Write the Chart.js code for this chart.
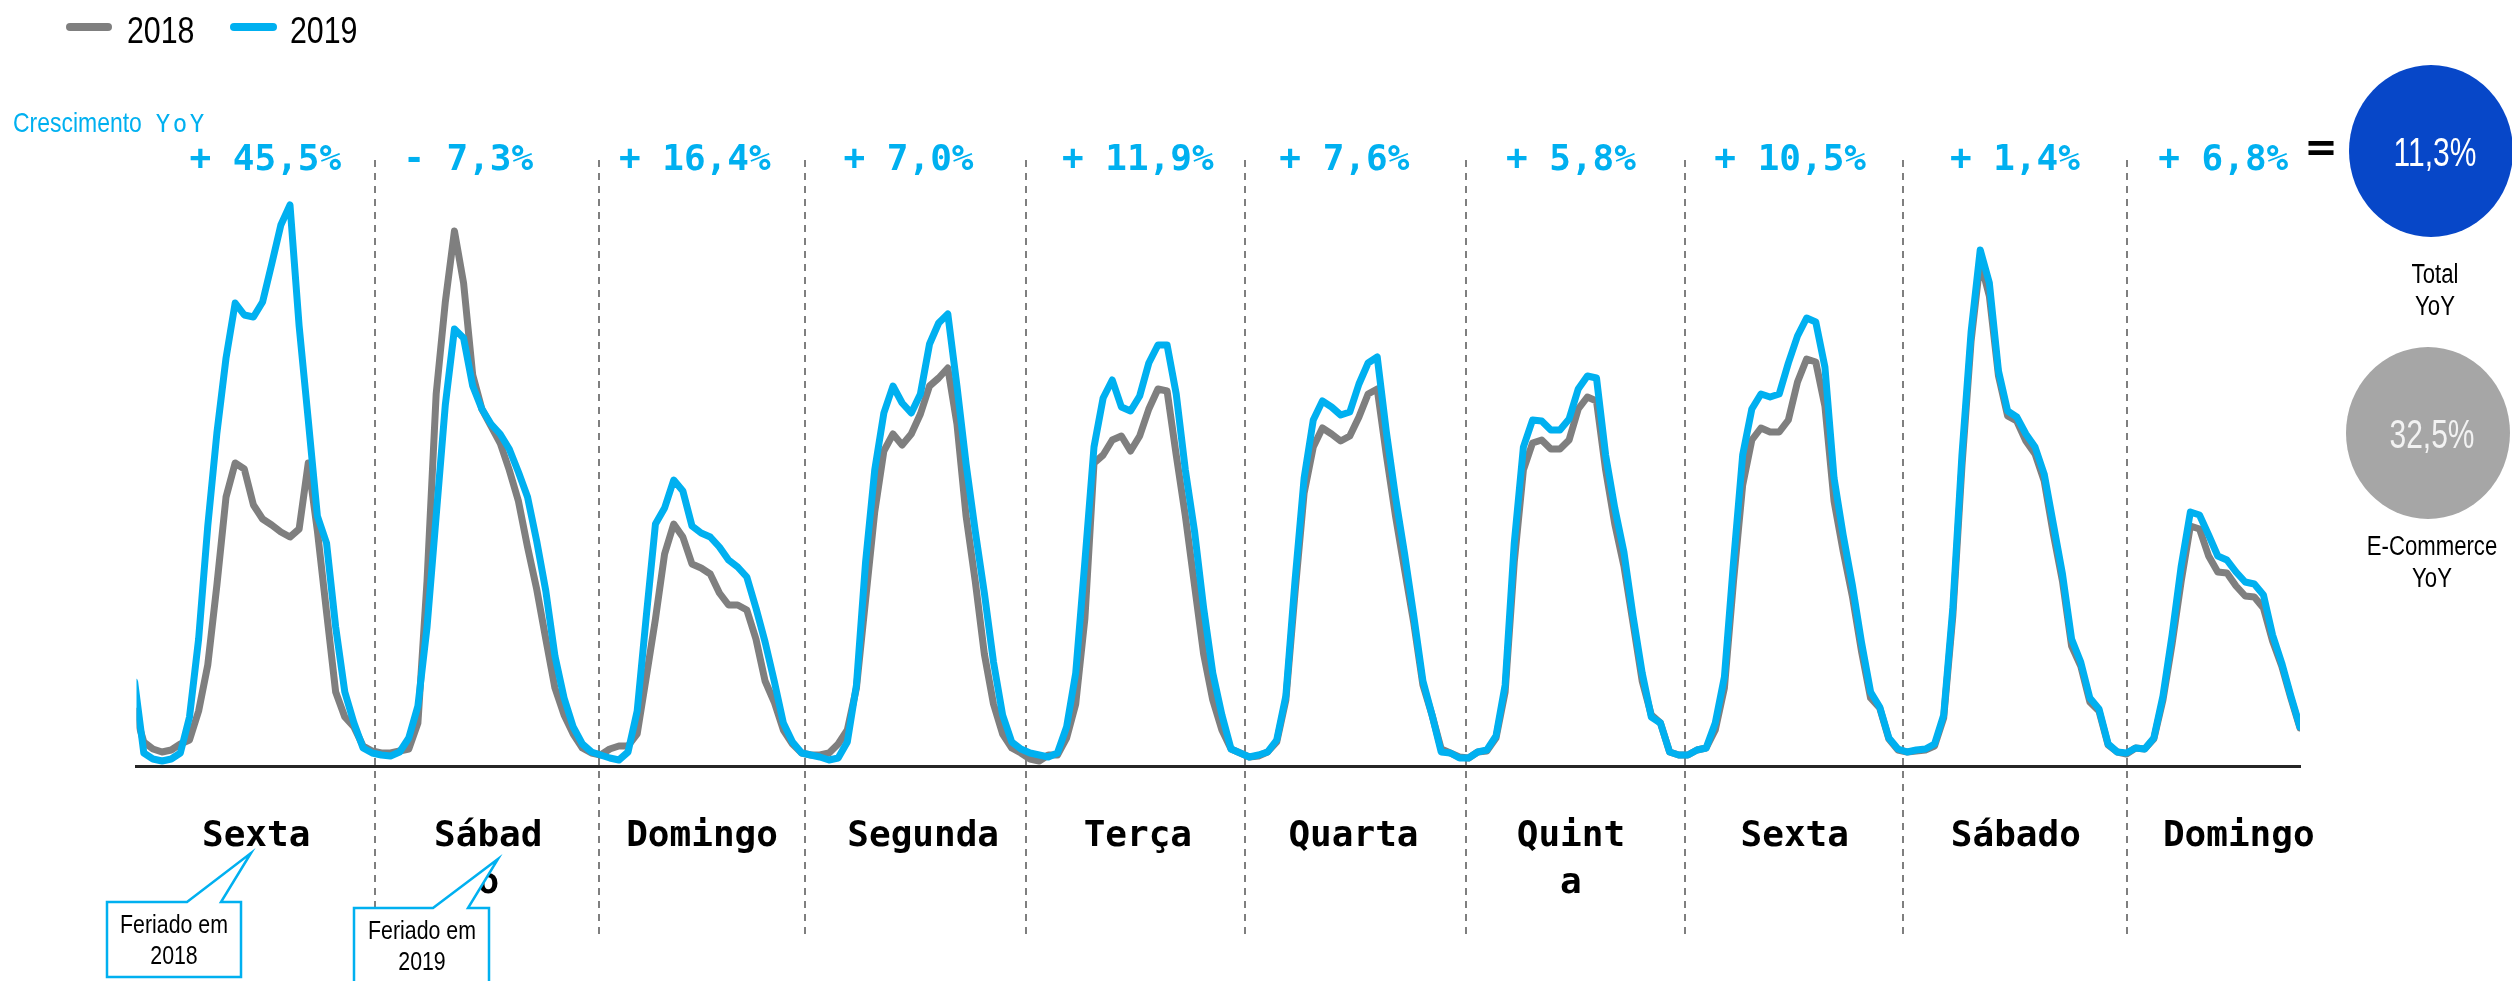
<!DOCTYPE html>
<html>
<head>
<meta charset="utf-8">
<script src="https://cdn.jsdelivr.net/npm/chart.js@4.4.1/dist/chart.umd.min.js"></script>
<style>
  html, body { margin: 0; padding: 0; background: #fff; }
  #wrap { width: 2512px; height: 981px; }
</style>
</head>
<body>
<div id="wrap"><canvas id="chart" width="2512" height="981"></canvas></div>
<script>
// hourly sales index, one value per hour (first value is the hour before the grid start)
const sales2018 = [
    55, 24, 17, 14, 16, 22, 26, 55, 101, 181, 269, 303, 297, 261, 247, 241, 234, 229, 237, 303, 235, 154, 74, 49, 39, 20,
    15, 13, 13, 15, 17, 43, 185, 372, 464, 535, 483, 391, 357, 340, 323, 296, 265, 219, 177, 127, 78, 51, 32, 18,
    13, 11, 17, 20, 20, 32, 89, 147, 212, 242, 229, 202, 198, 192, 173, 161, 161, 156, 127, 85, 64, 36, 22, 13,
    11, 11, 13, 22, 36, 78, 166, 254, 315, 332, 321, 332, 352, 380, 388, 398, 342, 250, 185, 112, 62, 32, 18, 13,
    7, 5, 11, 11, 28, 62, 147, 303, 311, 326, 330, 315, 330, 357, 377, 375, 311, 250, 181, 112, 66, 36, 17, 13,
    9, 10, 14, 24, 66, 173, 273, 319, 338, 332, 325, 330, 349, 372, 377, 311, 250, 196, 143, 81, 51, 17, 13, 9,
    8, 14, 15, 28, 74, 204, 296, 323, 326, 317, 317, 326, 357, 369, 365, 296, 242, 200, 143, 85, 51, 43, 14, 11,
    11, 16, 18, 36, 78, 185, 281, 326, 338, 334, 334, 346, 384, 407, 404, 360, 265, 215, 170, 115, 68, 58, 27, 16,
    14, 15, 16, 20, 48, 150, 300, 425, 505, 470, 390, 350, 345, 325, 312, 285, 232, 185, 120, 100, 64, 55, 21, 14,
    12, 18, 17, 27, 66, 122, 185, 240, 237, 210, 194, 193, 180, 170, 169, 158, 125, 100, 68, 38
];
const sales2019 = [
    84, 13, 7, 5, 7, 13, 49, 127, 240, 333, 408, 463, 451, 449, 464, 502, 541, 561, 440, 346, 250, 223, 139, 74, 43, 18,
    13, 11, 10, 14, 28, 60, 139, 250, 361, 437, 428, 380, 357, 342, 332, 317, 294, 269, 225, 175, 110, 68, 39, 22,
    14, 11, 8, 6, 14, 55, 150, 242, 258, 286, 275, 240, 233, 229, 219, 206, 199, 189, 158, 124, 85, 43, 24, 13,
    11, 9, 6, 8, 24, 81, 204, 296, 353, 380, 363, 353, 372, 422, 443, 452, 380, 302, 235, 173, 104, 51, 24, 17,
    13, 11, 9, 13, 39, 93, 204, 319, 368, 386, 359, 355, 370, 403, 421, 421, 372, 296, 235, 158, 93, 51, 17, 13,
    9, 11, 14, 26, 70, 185, 288, 346, 365, 359, 351, 354, 382, 403, 409, 334, 269, 212, 150, 85, 51, 14, 13, 8,
    8, 14, 16, 30, 81, 223, 319, 346, 345, 336, 336, 347, 377, 390, 388, 311, 258, 214, 150, 93, 49, 43, 14, 11,
    11, 16, 18, 43, 89, 204, 311, 357, 372, 369, 372, 403, 430, 448, 444, 399, 288, 231, 181, 124, 74, 59, 28, 17,
    14, 16, 17, 22, 51, 158, 311, 434, 516, 483, 395, 355, 349, 332, 319, 292, 242, 192, 127, 104, 68, 57, 22, 14,
    13, 18, 17, 28, 70, 131, 200, 254, 251, 231, 210, 206, 194, 184, 182, 171, 131, 103, 70, 39
];

const dayLabels = ['Sexta', ['Sábad', 'o'], 'Domingo', 'Segunda', 'Terça', 'Quarta', ['Quint', 'a'], 'Sexta', 'Sábado', 'Domingo'];
const growthLabels = ['+ 45,5%', '- 7,3%', '+ 16,4%', '+ 7,0%', '+ 11,9%', '+ 7,6%', '+ 5,8%', '+ 10,5%', '+ 1,4%', '+ 6,8%'];
const totalYoY = '11,3%';
const ecommerceYoY = '32,5%';

// layout, in hours on the x axis
const dayCenterHour = [12.3, 37.7, 61.1, 85.3, 108.8, 132.4, 156.2, 180.7, 204.9, 229.3];
const growthHour = [13.3, 35.5, 60.3, 83.7, 108.8, 131.4, 156.2, 180.2, 204.8, 227.6];
const dayBreakHour = [25.3, 49.8, 72.4, 96.6, 120.5, 144.7, 168.7, 192.5, 217.1];

const BLUE = '#00B0F0';
const GREY = '#7F7F7F';
const MONO = '"DejaVu Sans Mono", monospace';
const SANS = '"Liberation Sans", Arial, sans-serif';

// Arial Narrow look-alike: squeeze Liberation Sans horizontally
function narrow(ctx, text, x, y, size, color, align, sx, baseline) {
    ctx.save();
    ctx.translate(x, y);
    ctx.scale(sx || 0.82, 1);
    ctx.font = size + 'px ' + SANS;
    ctx.fillStyle = color;
    ctx.textAlign = align || 'center';
    ctx.textBaseline = baseline || 'middle';
    ctx.fillText(text, 0, 0);
    ctx.restore();
}

function callout(ctx, box, tip, base, lines, tx, ty) {
    ctx.save();
    ctx.beginPath();
    ctx.moveTo(box[0], box[1]);
    ctx.lineTo(base[0], box[1]);
    ctx.lineTo(tip[0], tip[1]);
    ctx.lineTo(base[1], box[1]);
    ctx.lineTo(box[2], box[1]);
    ctx.lineTo(box[2], box[3]);
    ctx.lineTo(box[0], box[3]);
    ctx.closePath();
    ctx.fillStyle = '#fff';
    ctx.fill();
    ctx.strokeStyle = BLUE;
    ctx.lineWidth = 2.5;
    ctx.lineJoin = 'miter';
    ctx.stroke();
    ctx.restore();
    narrow(ctx, lines[0], tx, ty, 26, '#000');
    narrow(ctx, lines[1], tx, ty + 31, 26, '#000');
}

const decor = {
    id: 'decor',
    beforeDatasetsDraw(chart) {
        const { ctx, scales: { x } } = chart;
        ctx.save();
        ctx.strokeStyle = GREY;
        ctx.lineWidth = 2;
        ctx.setLineDash([7, 6]);
        dayBreakHour.forEach(h => {
            const px = Math.round(x.getPixelForValue(h));
            ctx.beginPath();
            ctx.moveTo(px, 160);
            ctx.lineTo(px, 936);
            ctx.stroke();
        });
        ctx.restore();
    },
    afterDraw(chart) {
        const { ctx, scales: { x } } = chart;

        // legend
        ctx.save();
        ctx.lineCap = 'round';
        ctx.lineWidth = 8;
        ctx.strokeStyle = GREY;
        ctx.beginPath(); ctx.moveTo(70, 27); ctx.lineTo(108, 27); ctx.stroke();
        ctx.strokeStyle = BLUE;
        ctx.beginPath(); ctx.moveTo(234, 27); ctx.lineTo(273, 27); ctx.stroke();
        ctx.restore();
        narrow(ctx, '2018', 127, 43, 37, '#000', 'left', 0.82, 'alphabetic');
        narrow(ctx, '2019', 290, 43, 37, '#000', 'left', 0.82, 'alphabetic');

        // growth row
        narrow(ctx, 'Crescimento', 13, 132, 28, BLUE, 'left', 0.82, 'alphabetic');
        ctx.save();
        ctx.font = '24px ' + MONO;
        ctx.fillStyle = BLUE;
        ctx.textAlign = 'center';
        ctx.textBaseline = 'alphabetic';
        ['Y', 'o', 'Y'].forEach((c, i) => ctx.fillText(c, 163 + i * 17, 132));
        ctx.font = 'bold 36px ' + MONO;
        growthLabels.forEach((t, i) => ctx.fillText(t, x.getPixelForValue(growthHour[i]), 170));
        ctx.fillStyle = '#000';
        ctx.font = 'bold 40px "DejaVu Sans", sans-serif';
        ctx.textBaseline = 'middle';
        ctx.fillText('=', 2321, 151);

        // totals
        ctx.fillStyle = '#0747C8';
        ctx.beginPath(); ctx.ellipse(2431, 151, 82, 86, 0, 0, Math.PI * 2); ctx.fill();
        ctx.fillStyle = '#A6A6A6';
        ctx.beginPath(); ctx.ellipse(2428, 433, 82, 86, 0, 0, Math.PI * 2); ctx.fill();
        ctx.restore();
        narrow(ctx, totalYoY, 2435, 155, 40, '#fff', 'center', 0.75);
        narrow(ctx, 'Total', 2435, 276, 27, '#000');
        narrow(ctx, 'YoY', 2435, 308, 27, '#000');
        narrow(ctx, ecommerceYoY, 2432, 437, 40, '#F2F2F2', 'center', 0.75);
        narrow(ctx, 'E-Commerce', 2432, 548, 27, '#000');
        narrow(ctx, 'YoY', 2432, 580, 27, '#000');

        // holiday callouts
        callout(ctx, [107, 902, 241, 977], [251, 853], [187, 221], ['Feriado em', '2018'], 174, 926);
        callout(ctx, [354, 908, 489, 995], [498, 859], [433, 468], ['Feriado em', '2019'], 422, 932);
    }
};

new Chart(document.getElementById('chart'), {
    type: 'line',
    data: {
        datasets: [
            {
                label: '2018',
                data: sales2018.map((v, i) => ({ x: i - 1, y: v })),
                borderColor: GREY,
                borderWidth: 7,
                pointRadius: 0,
                tension: 0,
                borderJoinStyle: 'round',
                borderCapStyle: 'round',
                order: 1
            },
            {
                label: '2019',
                data: sales2019.map((v, i) => ({ x: i - 1, y: v })),
                borderColor: BLUE,
                borderWidth: 7,
                pointRadius: 0,
                tension: 0,
                borderJoinStyle: 'round',
                borderCapStyle: 'round',
                order: 0
            }
        ]
    },
    options: {
        responsive: false,
        devicePixelRatio: 1,
        animation: false,
        layout: { padding: { left: 136.5, right: 212, top: 166, bottom: 0 } },
        plugins: {
            legend: { display: false },
            tooltip: { enabled: false }
        },
        scales: {
            x: {
                type: 'linear',
                min: -0.8,
                max: 236,
                grid: { display: false, drawTicks: false },
                border: { display: true, color: '#262626', width: 3 },
                afterBuildTicks: s => { s.ticks = dayCenterHour.map(v => ({ value: v })); },
                afterFit: s => { s.height = 215; },
                ticks: {
                    autoSkip: false,
                    maxRotation: 0,
                    padding: 47,
                    color: '#000',
                    font: { family: MONO, weight: 'bold', size: 36, lineHeight: 1.3 },
                    callback: (v, i) => dayLabels[i]
                }
            },
            y: { display: false, min: 0, max: 600 }
        }
    },
    plugins: [decor]
});
</script>
</body>
</html>
